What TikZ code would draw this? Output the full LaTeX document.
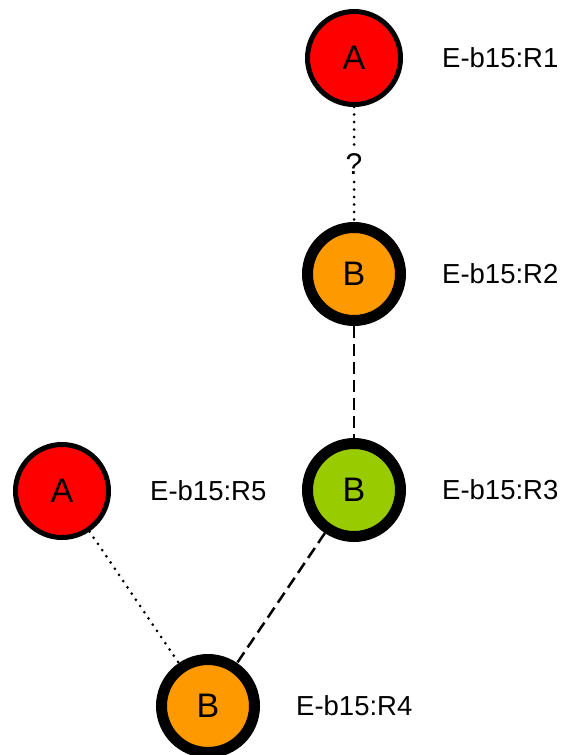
\documentclass[tikz,border=0pt]{standalone}
\usepackage{fontspec}
\setmainfont{Liberation Sans}
\definecolor{nred}{HTML}{FF0000}
\definecolor{norange}{HTML}{FF9900}
\definecolor{ngreen}{HTML}{99CC00}
\begin{document}
\begin{tikzpicture}[x=1pt,y=-1pt,
  nodeA/.style={circle,draw=black,line width=5pt,fill=nred,minimum size=93pt,inner sep=0pt,font=\fontsize{34}{40}\selectfont},
  nodeB/.style={circle,draw=black,line width=11pt,minimum size=93pt,inner sep=0pt,font=\fontsize{34}{40}\selectfont},
  lbl/.style={anchor=west,inner sep=0pt,font=\fontsize{27.5}{33}\selectfont},
  dotline/.style={line width=3pt,line cap=round,dash pattern=on 0pt off 7.5pt},
  dashline/.style={line width=2.5pt,dash pattern=on 12pt off 6pt}]
\useasboundingbox (0,0) rectangle (566,755);
\node[nodeA] (r1) at (354,58) {A};
\node[nodeB,fill=norange] (r2) at (354,274) {B};
\node[nodeB,fill=ngreen] (r3) at (354,490) {B};
\node[nodeA] (r5) at (62,491) {A};
\node[nodeB,fill=norange] (r4) at (208,706) {B};
\node[lbl] (l1) at (442,58) {E-b15:R1};
\node[lbl] (l2) at (442,274) {E-b15:R2};
\node[lbl] (l3) at (442,490) {E-b15:R3};
\node[lbl] (l5) at (150,491) {E-b15:R5};
\node[lbl] (l4) at (296,706) {E-b15:R4};
\draw[dotline] (r1) -- node[fill=white,inner sep=4pt,font=\fontsize{30}{36}\selectfont] (q) {?} (r2);
\draw[dashline] (r2) -- (r3);
\draw[dashline] (r3) -- (r4);
\draw[dotline] (r5) -- (r4);
\end{tikzpicture}
\end{document}
